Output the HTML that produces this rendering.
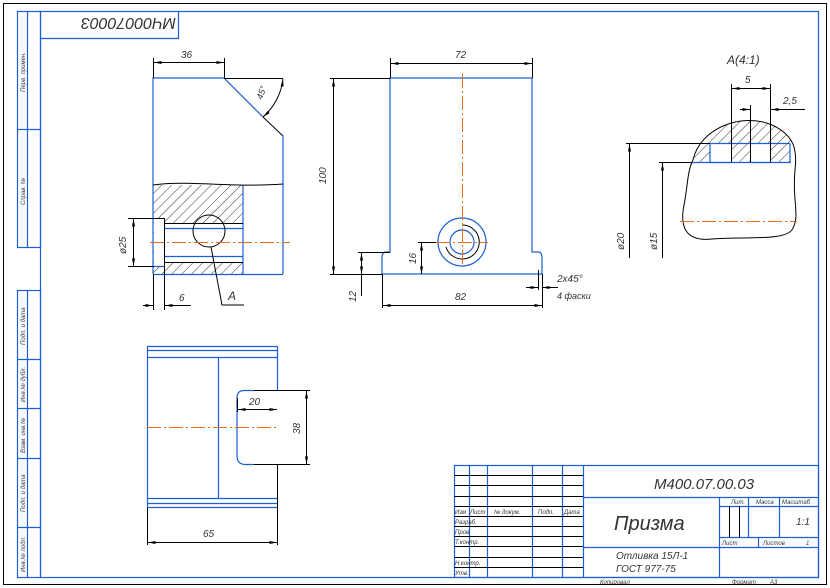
<!DOCTYPE html>
<html><head><meta charset="utf-8"><style>
html,body{margin:0;padding:0;background:#fff}
svg{display:block}
text{font-family:"Liberation Sans",sans-serif;font-style:italic;fill:#333}
</style></head><body>
<svg width="830" height="588" viewBox="0 0 830 588" xmlns="http://www.w3.org/2000/svg">
<defs>
<pattern id="h" width="7" height="7" patternUnits="userSpaceOnUse" patternTransform="rotate(45)">
<line x1="0" y1="0" x2="0" y2="7" stroke="#000" stroke-width="0.8"/>
</pattern>
<marker id="a" viewBox="0 0 10 4" refX="10" refY="2" markerWidth="8" markerHeight="3" orient="auto-start-reverse" markerUnits="userSpaceOnUse"><path d="M0,0 L10,2 L0,4z" fill="#000"/></marker>
<clipPath id="blob"><path d="M693,160 C700,128 742,112 772,125 C796,136 797,152 795,170 C792,200 800,215 793,228 C788,242 742,236 712,239 C684,242 680,225 684,205 C688,185 687,172 693,160Z"/></clipPath>
</defs>
<rect width="830" height="588" fill="#fff"/>
<rect x="3.5" y="3.5" width="823" height="581" fill="none" stroke="#000" stroke-width="1"/>
<g fill="none" stroke="#1a5fd6" stroke-width="1.2">
<rect x="40.5" y="11.5" width="778" height="566"/>
<polyline points="40.5,38.5 178.5,38.5 178.5,11.5"/>
<rect x="17.5" y="11.5" width="23" height="236"/>
<line x1="27.5" y1="11.5" x2="27.5" y2="247.5"/>
<line x1="17.5" y1="129.5" x2="40.5" y2="129.5"/>
<rect x="17.5" y="290.5" width="23" height="287"/>
<line x1="27.5" y1="290.5" x2="27.5" y2="577.5"/>
<line x1="17.5" y1="359.5" x2="40.5" y2="359.5"/>
<line x1="17.5" y1="408.5" x2="40.5" y2="408.5"/>
<line x1="17.5" y1="458.5" x2="40.5" y2="458.5"/>
<line x1="17.5" y1="527.5" x2="40.5" y2="527.5"/>
<rect x="454.5" y="465.5" width="364" height="112"/>
<line x1="469.5" y1="465.5" x2="469.5" y2="577.5"/>
<line x1="487.5" y1="465.5" x2="487.5" y2="577.5"/>
<line x1="532.5" y1="465.5" x2="532.5" y2="577.5"/>
<line x1="562.5" y1="465.5" x2="562.5" y2="577.5"/>
<line x1="583.5" y1="465.5" x2="583.5" y2="577.5"/>
<line x1="583.5" y1="497.5" x2="818.5" y2="497.5"/>
<line x1="583.5" y1="547.5" x2="818.5" y2="547.5"/>
<line x1="719.5" y1="497.5" x2="719.5" y2="577.5"/>
<line x1="748.5" y1="497.5" x2="748.5" y2="537.5"/>
<line x1="779.5" y1="497.5" x2="779.5" y2="537.5"/>
<line x1="719.5" y1="506.5" x2="818.5" y2="506.5"/>
<line x1="719.5" y1="537.5" x2="818.5" y2="537.5"/>
<line x1="758.5" y1="537.5" x2="758.5" y2="547.5"/>
</g>
<g stroke="#000" stroke-width="1">
<line x1="454" y1="475.5" x2="583" y2="475.5"/>
<line x1="454" y1="485.5" x2="583" y2="485.5"/>
<line x1="454" y1="496.5" x2="583" y2="496.5"/>
<line x1="454" y1="506.5" x2="583" y2="506.5"/>
<line x1="454" y1="516.5" x2="583" y2="516.5"/>
<line x1="454" y1="526.5" x2="583" y2="526.5"/>
<line x1="454" y1="536.5" x2="583" y2="536.5"/>
<line x1="454" y1="546.5" x2="583" y2="546.5"/>
<line x1="454" y1="557.5" x2="583" y2="557.5"/>
<line x1="454" y1="567.5" x2="583" y2="567.5"/>
<line x1="729.5" y1="506" x2="729.5" y2="537"/>
<line x1="739.5" y1="506" x2="739.5" y2="537"/>
</g>
<g font-size="6">
<text x="455" y="514">Изм</text><text x="470" y="514">Лист</text><text x="494" y="514">№ докум.</text><text x="538" y="514">Подп.</text><text x="564" y="514">Дата</text>
<text x="455" y="524">Разраб.</text><text x="455" y="534">Пров.</text><text x="455" y="544">Т.контр.</text>
<text x="455" y="565">Н.контр.</text><text x="455" y="575">Утв.</text>
<text x="731" y="504">Лит.</text><text x="756" y="504">Масса</text><text x="782" y="504">Масштаб</text>
<text x="722" y="545">Лист</text><text x="763" y="545">Листов</text><text x="806" y="545">1</text>
<text x="600" y="584">Копировал</text><text x="732" y="584">Формат</text><text x="770" y="584">A3</text>
</g>
<text x="654" y="489" font-size="15">М400.07.00.03</text>
<text x="614" y="530" font-size="20">Призма</text>
<text x="796" y="525" font-size="10">1:1</text>
<text x="616" y="559" font-size="10">Отливка 15Л-1</text>
<text x="616" y="572" font-size="10">ГОСТ 977-75</text>
<text x="0" y="0" font-size="16" transform="translate(176,18) rotate(180)">МЧ00070003</text>
<g font-size="6">
<text transform="translate(25,92) rotate(-90)">Перв. примен.</text>
<text transform="translate(25,205) rotate(-90)">Справ. №</text>
<text transform="translate(25,345) rotate(-90)">Подп. и дата</text>
<text transform="translate(25,402) rotate(-90)">Инв.№ дубл.</text>
<text transform="translate(25,453) rotate(-90)">Взам. инв.№</text>
<text transform="translate(25,512) rotate(-90)">Подп. и дата</text>
<text transform="translate(25,572) rotate(-90)">Инв.№ подл.</text>
</g>

<rect x="153" y="185" width="90" height="89" fill="url(#h)"/>
<rect x="165" y="223" width="78" height="39" fill="#fff"/>
<rect x="154" y="218" width="10" height="48" fill="#fff"/>
<g fill="none" stroke="#1a5fd6" stroke-width="1.2">
<polyline points="153,274 153,78 224,78 263,117"/>
<line x1="283" y1="136" x2="283" y2="274"/>
<line x1="153" y1="274.5" x2="283" y2="274.5"/>
<line x1="243" y1="185" x2="243" y2="274"/>
<line x1="165" y1="228.5" x2="243" y2="228.5"/>
<line x1="165" y1="256.5" x2="243" y2="256.5"/>
<line x1="153" y1="266.5" x2="165" y2="266.5"/>
</g>
<g fill="none" stroke="#000" stroke-width="1">
<line x1="224" y1="78.5" x2="283" y2="78.5"/>
<line x1="263" y1="117" x2="283" y2="136"/>
<path d="M153,185 C190,180 230,188 283,184"/>
<line x1="165" y1="223.5" x2="243" y2="223.5"/>
<line x1="165" y1="262.5" x2="243" y2="262.5"/>
<line x1="164.5" y1="218" x2="164.5" y2="310"/>
<line x1="153.5" y1="274" x2="153.5" y2="310"/>
<line x1="128" y1="218.5" x2="164" y2="218.5"/>
<line x1="128" y1="266.5" x2="154" y2="266.5"/>
<line x1="133.5" y1="219" x2="133.5" y2="266" marker-start="url(#a)" marker-end="url(#a)"/>
<line x1="143" y1="305.5" x2="153" y2="305.5" marker-end="url(#a)"/>
<line x1="191" y1="305.5" x2="165" y2="305.5" marker-end="url(#a)"/>
<circle cx="209" cy="231" r="16"/>
<polyline points="211,247 222,305 244,305"/>
<line x1="153.5" y1="58" x2="153.5" y2="78"/>
<line x1="224.5" y1="58" x2="224.5" y2="78"/>
<line x1="154" y1="62.5" x2="224" y2="62.5" marker-start="url(#a)" marker-end="url(#a)"/>
<path d="M283,79 A60,60 0 0 1 263,117" marker-start="url(#a)" marker-end="url(#a)"/>
</g>
<line x1="150" y1="242.5" x2="290" y2="242.5" stroke="#e07020" stroke-width="1" stroke-dasharray="14,3,2,3"/>
<text x="181" y="58" font-size="10">36</text>
<text font-size="9" transform="translate(262,100) rotate(-70)">45°</text>
<text font-size="10" transform="translate(126,254) rotate(-90)">ø25</text>
<text x="179" y="301" font-size="10">6</text>
<text x="228" y="300" font-size="12">A</text>

<g fill="none" stroke="#1a5fd6" stroke-width="1.2">
<path d="M390,78 H532 V252 H538 Q542,252 542,258 V274 H382 V258 Q382,252 386,252 H390 Z"/>
<circle cx="462" cy="242" r="24"/>
<circle cx="462" cy="242" r="12"/>
</g>
<g fill="none" stroke="#000" stroke-width="1">
<path d="M462,225 A17,17 0 1 1 446,247"/>
<line x1="390.5" y1="58" x2="390.5" y2="78"/>
<line x1="532.5" y1="58" x2="532.5" y2="78"/>
<line x1="391" y1="63.5" x2="532" y2="63.5" marker-start="url(#a)" marker-end="url(#a)"/>
<line x1="330" y1="78.5" x2="390" y2="78.5"/>
<line x1="330" y1="274.5" x2="382" y2="274.5"/>
<line x1="333.5" y1="79" x2="333.5" y2="274" marker-start="url(#a)" marker-end="url(#a)"/>
<line x1="358" y1="252.5" x2="390" y2="252.5"/>
<line x1="361.5" y1="253" x2="361.5" y2="274" marker-start="url(#a)" marker-end="url(#a)"/>
<line x1="361.5" y1="274" x2="361.5" y2="296"/>
<line x1="418" y1="242.5" x2="440" y2="242.5"/>
<line x1="421.5" y1="243" x2="421.5" y2="274" marker-start="url(#a)" marker-end="url(#a)"/>
<line x1="382.5" y1="274" x2="382.5" y2="308"/>
<line x1="542.5" y1="274" x2="542.5" y2="308"/>
<line x1="383" y1="305.5" x2="542" y2="305.5" marker-start="url(#a)" marker-end="url(#a)"/>
<line x1="538.5" y1="270" x2="538.5" y2="290"/>
<line x1="526" y1="287.5" x2="538" y2="287.5" marker-end="url(#a)"/>
<line x1="558" y1="287.5" x2="542" y2="287.5" marker-end="url(#a)"/>
</g>
<g stroke="#e07020" stroke-width="1" stroke-dasharray="14,3,2,3">
<line x1="462.5" y1="74" x2="462.5" y2="266"/>
<line x1="436" y1="242.5" x2="488" y2="242.5"/>
</g>
<text x="455" y="58" font-size="10">72</text>
<text font-size="10" transform="translate(326,184) rotate(-90)">100</text>
<text font-size="10" transform="translate(356,302) rotate(-90)">12</text>
<text font-size="10" transform="translate(416,264) rotate(-90)">16</text>
<text x="455" y="300" font-size="10">82</text>
<text x="557" y="282" font-size="10">2х45°</text>
<text x="557" y="299" font-size="9">4 фаски</text>

<g clip-path="url(#blob)">
<rect x="680" y="110" width="120" height="33" fill="url(#h)"/>
<rect x="692" y="143" width="18" height="19" fill="url(#h)"/>
<rect x="731" y="143" width="19" height="19" fill="url(#h)"/>
<rect x="770" y="143" width="20" height="19" fill="url(#h)"/>
</g>
<path d="M693,160 C700,128 742,112 772,125 C796,136 797,152 795,170 C792,200 800,215 793,228 C788,242 742,236 712,239 C684,242 680,225 684,205 C688,185 687,172 693,160Z" fill="none" stroke="#000" stroke-width="1"/>
<g fill="none" stroke="#1a5fd6" stroke-width="1.2">
<polyline points="710,143.5 710,162.5 731,162.5"/>
<polyline points="750,162.5 770,162.5"/>
<polyline points="790,143.5 790,162.5 692,162.5"/>
<line x1="710" y1="143.5" x2="790" y2="143.5"/>
</g>
<g fill="none" stroke="#000" stroke-width="1">
<line x1="731.5" y1="84" x2="731.5" y2="162"/>
<line x1="770.5" y1="84" x2="770.5" y2="162"/>
<line x1="750.5" y1="105" x2="750.5" y2="162"/>
<line x1="732" y1="88.5" x2="770" y2="88.5" marker-start="url(#a)" marker-end="url(#a)"/>
<line x1="740" y1="109.5" x2="750" y2="109.5" marker-end="url(#a)"/>
<line x1="805" y1="109.5" x2="771" y2="109.5" marker-end="url(#a)"/>
<line x1="626" y1="143.5" x2="710" y2="143.5"/>
<line x1="659" y1="162.5" x2="692" y2="162.5"/>
<line x1="629.5" y1="144" x2="629.5" y2="258" marker-start="url(#a)"/>
<line x1="662.5" y1="163" x2="662.5" y2="258" marker-start="url(#a)"/>
</g>
<line x1="680" y1="221.5" x2="797" y2="221.5" stroke="#e07020" stroke-width="1" stroke-dasharray="14,3,2,3"/>
<text x="727" y="64" font-size="12">А(4:1)</text>
<text x="745" y="83" font-size="10">5</text>
<text x="783" y="104" font-size="10">2,5</text>
<text font-size="10" transform="translate(624,250) rotate(-90)">ø20</text>
<text font-size="10" transform="translate(657,250) rotate(-90)">ø15</text>

<g fill="none" stroke="#1a5fd6" stroke-width="1.2">
<line x1="147" y1="346.5" x2="277" y2="346.5"/>
<line x1="147" y1="350.5" x2="277" y2="350.5"/>
<line x1="147" y1="357.5" x2="277" y2="357.5"/>
<line x1="147" y1="498.5" x2="277" y2="498.5"/>
<line x1="147" y1="503.5" x2="277" y2="503.5"/>
<line x1="147" y1="507.5" x2="277" y2="507.5"/>
<line x1="147.5" y1="346" x2="147.5" y2="508"/>
<line x1="277.5" y1="346" x2="277.5" y2="390"/>
<line x1="218.5" y1="357" x2="218.5" y2="498"/>
<path d="M254,390.5 H245 Q237,390 237,398 V456 Q237,464 245,464.5 H254"/>
</g>
<g fill="none" stroke="#000" stroke-width="1">
<line x1="254" y1="390.5" x2="310" y2="390.5"/>
<line x1="254" y1="464.5" x2="310" y2="464.5"/>
<line x1="277.5" y1="464" x2="277.5" y2="545"/>
<line x1="147.5" y1="508" x2="147.5" y2="545"/>
<line x1="237.5" y1="398" x2="237.5" y2="412"/>
<line x1="238" y1="409.5" x2="277" y2="409.5" marker-start="url(#a)" marker-end="url(#a)"/>
<line x1="306.5" y1="391" x2="306.5" y2="464" marker-start="url(#a)" marker-end="url(#a)"/>
<line x1="148" y1="542.5" x2="277" y2="542.5" marker-start="url(#a)" marker-end="url(#a)"/>
</g>
<line x1="147" y1="427.5" x2="277" y2="427.5" stroke="#e07020" stroke-width="1" stroke-dasharray="14,3,2,3"/>
<text x="249" y="405" font-size="10">20</text>
<text font-size="10" transform="translate(300,434) rotate(-90)">38</text>
<text x="203" y="537" font-size="10">65</text>
</svg>
</body></html>
